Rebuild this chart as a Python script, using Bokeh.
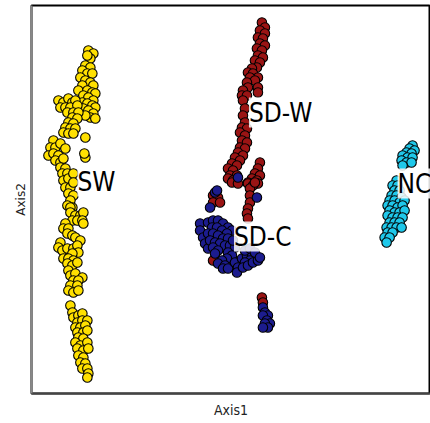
from bokeh.plotting import figure
from bokeh.models import Range1d, Label, FixedTicker
from bokeh.embed import file_html
from bokeh.resources import INLINE

# ---- data (Axis1, Axis2) ----
sw_x = [88,93,90,87,85,90,82,87,92,80,85,90,93,82,78,87,92,95,83,88,93,82,87,92,95,83,88,93,90,85,95,
        58,63,68,72,75,60,65,70,77,67,73,78,72,77,68,73,65,70,75,63,68,73,85,
        53,50,55,60,65,48,53,58,55,60,63,85,84,
        60,65,62,67,63,68,73,65,70,73,68,73,70,67,72,
        70,70,75,80,83,72,77,82,65,83,63,68,67,72,75,80,60,58,62,67,73,77,78,72,63,68,73,67,72,77,
        68,70,75,82,73,78,70,77,68,73,78,70,72,73,78,82,77,82,87,75,80,85,77,83,87,78,83,75,80,87,
        77,83,88,78,83,80,85,82,87,88,87]
sw_y = [50,53,58,55,65,67,70,73,73,77,80,82,85,85,90,90,92,93,95,97,100,102,103,105,107,108,110,113,117,115,118,
        100,102,98,102,100,107,107,107,105,112,112,112,117,118,122,123,127,128,128,132,133,133,137,
        140,147,147,143,148,155,153,155,160,162,158,157,153,
        167,168,173,173,180,178,173,187,187,182,193,195,200,205,207,
        207,212,215,215,212,220,220,220,223,223,228,228,233,235,237,240,242,247,250,248,248,245,252,253,258,258,260,263,265,262,
        270,275,273,277,280,280,285,285,290,292,290,305,312,317,315,313,322,320,320,327,327,325,332,332,330,337,338,342,345,342,
        348,350,348,355,357,362,363,368,368,373,377]

sdw_x = [262,265,260,265,258,263,260,265,257,262,258,263,255,260,257,252,248,253,258,250,255,258,258,247,248,243,242,247,243,
         245,243,245,242,247,240,245,242,247,240,245,238,243,235,240,232,237,228,233,230,237,228,233,
         260,258,255,260,252,257,248,253,258,
         232,238,248,253,250,255,250,250,248,213,218,213,220,247,248,213,262,263]
sdw_y = [22,27,30,33,37,38,43,45,48,50,55,57,60,62,67,68,72,73,77,77,80,87,92,82,87,90,95,95,100,
         108,115,122,127,128,132,135,140,142,147,148,152,155,157,160,163,165,168,170,175,175,178,180,
         162,168,173,175,178,180,182,183,183,
         182,183,183,185,188,182,195,202,208,195,197,202,202,213,218,260,297,302]

sdc_x = [238,257,215,210,217,
         200,200,203,205,208,208,213,218,223,228,232,212,217,222,227,208,213,218,223,228,210,215,220,225,230,213,218,215,235,233,
         228,232,227,222,218,225,223,228,235,238,237,242,247,252,257,250,245,243,248,253,258,245,250,255,260,
         263,265,268,263,267,270,265,268,263]
sdc_y = [177,197,192,207,190,
         223,230,237,243,248,222,220,220,223,227,230,227,227,230,233,233,233,235,238,238,240,242,243,245,245,247,250,253,247,240,
         252,255,258,260,263,265,268,268,262,267,272,258,255,253,257,260,262,267,265,262,260,250,248,252,257,
         307,312,315,315,320,323,323,327,327]

nc_x = [413,410,415,407,412,403,408,413,402,407,412,403,
        397,393,398,395,400,392,397,402,390,395,400,405,388,393,398,403,390,395,400,405,388,393,398,403,
        390,395,400,387,392,397,402,388,393,385,390,387]
nc_y = [145,148,150,152,153,155,157,157,160,162,162,165,
        180,185,185,190,190,195,195,197,200,200,202,200,205,205,207,205,210,212,212,210,215,217,217,217,
        222,222,222,227,227,227,227,232,232,237,237,242]

group_names = ["SW", "SD-W", "SD-C", "NC"]
group_colors = ["#FFE000", "#9A1414", "#1C1C8E", "#1FC8EA"]

label_names = ["SW", "SD-W", "SD-C", "NC"]
label_x = [77, 249, 234, 398]
label_y = [181, 112, 236, 183]

COND = "'DejaVu Sans Condensed', 'Roboto Condensed', 'Liberation Sans Narrow', 'DejaVu Sans', sans-serif"

# ---- figure ----
p = figure(width=430, height=423, output_backend="svg", toolbar_location=None,
           x_range=Range1d(31, 431), y_range=Range1d(393, 5),
           min_border_left=31, min_border_top=5, min_border_bottom=30, min_border_right=0)
p.grid.visible = False
p.outline_line_color = "black"
p.outline_line_width = 2
p.background_fill_color = "white"

for ax in (p.xaxis[0], p.yaxis[0]):
    ax.ticker = FixedTicker(ticks=[])
    ax.major_tick_line_color = None
    ax.minor_tick_line_color = None
    ax.major_label_standoff = 0
    ax.axis_line_width = 2
p.xaxis.axis_label = "Axis1"
p.xaxis.axis_label_standoff = 8
p.xaxis.axis_line_color = "#444444"
p.xaxis.axis_label_text_font = COND
p.xaxis.axis_label_text_font_size = "14px"
p.xaxis.axis_label_text_font_style = "normal"
p.xaxis.axis_label_text_color = "#222222"
p.yaxis.axis_label = "Axis2"
p.yaxis.axis_label_standoff = 4
p.yaxis.axis_line_color = "#888888"
p.yaxis.axis_label_text_font = "DejaVu Sans"
p.yaxis.axis_label_text_font_size = "12px"
p.yaxis.axis_label_text_font_style = "normal"
p.yaxis.axis_label_text_color = "#222222"

series = [(sw_x, sw_y), (sdw_x, sdw_y), (sdc_x, sdc_y), (nc_x, nc_y)]
for (xs, ys), name, col in zip(series, group_names, group_colors):
    p.scatter(xs, ys, size=9.5, fill_color=col, line_color="black", line_width=1.1)

for t, lx, ly in zip(label_names, label_x, label_y):
    p.add_layout(Label(x=lx, y=ly, text=t, text_align="left", text_baseline="middle",
                       text_font=COND, text_font_size="26px", text_color="black",
                       background_fill_color="white", background_fill_alpha=0.85))

open("out.html", "w").write(file_html(p, INLINE))
